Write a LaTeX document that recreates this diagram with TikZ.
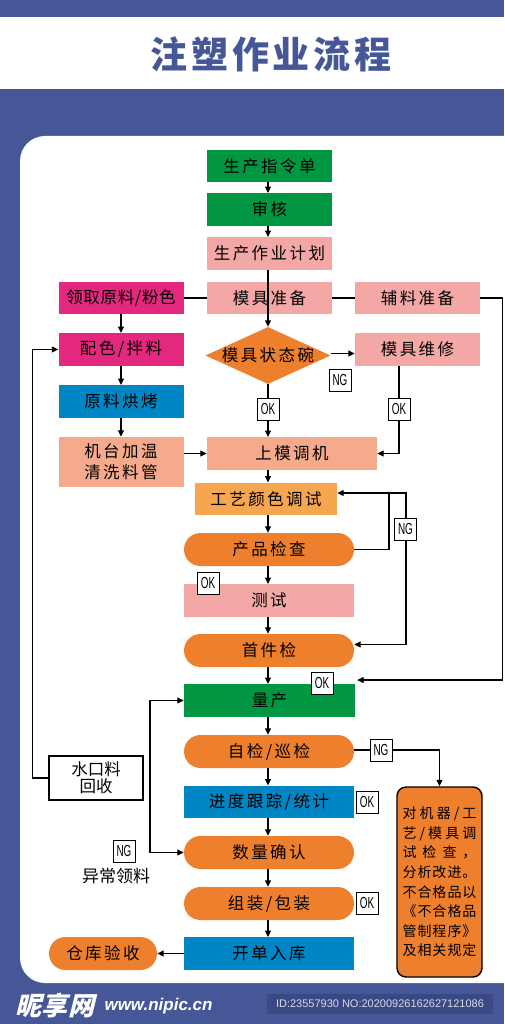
\documentclass[tikz,border=0pt]{standalone}
\usepackage{fontspec}
\usetikzlibrary{shapes.geometric,arrows.meta,calc}
\newfontfamily\cjk[LetterSpace=15]{Noto Sans CJK SC}
\newfontfamily\cjkn[LetterSpace=4]{Noto Sans CJK SC}
\newfontfamily\cjks{Noto Sans CJK SC}
\newfontfamily\cjkt[LetterSpace=10]{Noto Sans CJK SC}
\newfontfamily\cjkw[FakeSlant=0.25]{Noto Sans CJK SC}
\newfontfamily\narrow[FakeStretch=0.62]{Liberation Sans}
\newfontfamily\lsans{Liberation Sans}
\definecolor{bgblue}{RGB}{70,87,152}
\definecolor{cgreen}{RGB}{0,150,66}
\definecolor{cpink}{RGB}{244,168,166}
\definecolor{cmag}{RGB}{229,40,127}
\definecolor{cblue}{RGB}{0,134,197}
\definecolor{csalmon}{RGB}{246,170,140}
\definecolor{clor}{RGB}{247,166,80}
\definecolor{corange}{RGB}{238,127,45}
\definecolor{idbox}{RGB}{58,73,132}
\definecolor{idtext}{RGB}{215,218,232}
\begin{document}
\begin{tikzpicture}[x=1pt,y=-1pt,
  box/.style={inner sep=0pt, minimum width=125pt, minimum height=32.5pt, text=black,
    font=\cjk\fontsize{16.5}{21}\selectfont},
  pill/.style={box, fill=corange, minimum width=170pt, minimum height=33pt, rounded corners=16.5pt},
  ln/.style={line width=1.2pt, draw=black},
  arr/.style={ln, -{Triangle[length=6.5pt,width=6pt]}},
  tag/.style={draw=black, fill=white, line width=0.9pt, minimum width=22pt, minimum height=22pt,
    inner sep=0pt, font=\narrow\fontsize{16}{16}\selectfont},
]
\useasboundingbox (0,0) rectangle (504,1024);
\clip (0,0) rectangle (504,1024);
% background
\fill[bgblue] (0,0) rectangle (504,1024);
\fill[white] (0,17) rectangle (504,89);
\fill[white, rounded corners=25pt] (20,136) rectangle (560,983);
\node[font=\cjkt\bfseries\fontsize{37}{40}\selectfont, text=bgblue] (title) at (271,54) {注塑作业流程};

% column reference
\coordinate (col) at (268,0);

% nodes
\node[box, fill=cgreen] (a1) at (269.5,166) {生产指令单};
\node[box, fill=cgreen] (a2) at (269.5,209.5) {审核};
\node[box, fill=cpink] (a3) at (269.5,253.5) {生产作业计划};
\node[box, fill=cpink] (mj) at (269.5,298) {模具准备};
\node[box, fill=cmag, font=\cjkn\fontsize{16.5}{21}\selectfont] (lq) at (121,298) {领取原料/粉色};
\node[box, fill=cpink] (fl) at (417.5,298) {辅料准备};
\node[box, fill=cmag] (pz) at (121,349.5) {配色/拌料};
\node[diamond, fill=corange, inner sep=0pt, minimum width=125pt, minimum height=57pt] (dia) at (268,355.5) {};
\node[box, minimum width=0pt, minimum height=0pt] (diat) at (268,355) {模具状态碗};
\node[box, fill=cpink] (wx) at (417.5,349.5) {模具维修};
\node[box, fill=cblue] (hk) at (121,401.5) {原料烘烤};
\node[box, fill=csalmon, minimum height=50pt, align=center] (jt) at (121,462) {机台加温\\清洗料管};
\node[box, fill=csalmon, minimum width=170pt] (sm) at (292,453.5) {上模调机};
\node[box, fill=clor, minimum width=142pt] (gy) at (266,499) {工艺颜色调试};
\node[pill] (pc) at (269,549.5) {产品检查};
\node[box, fill=cpink, minimum width=170pt] (cs) at (269,600.5) {测试};
\node[pill] (sj) at (269,650.5) {首件检};
\node[box, fill=cgreen, minimum width=171pt] (lc) at (269.5,700.5) {量产};
\node[pill] (zj) at (269,751.5) {自检/巡检};
\node[box, fill=cblue, minimum width=170pt] (jd) at (269,802) {进度跟踪/统计};
\node[pill] (sl) at (269,852.5) {数量确认};
\node[pill] (zz) at (269,903.5) {组装/包装};
\node[box, fill=cblue, minimum width=170pt] (kd) at (269,953.5) {开单入库};
\node[pill, minimum width=108pt] (ck) at (103,953.5) {仓库验收};
\node[draw=black, line width=1.2pt, fill=white, minimum width=94pt, minimum height=44pt, inner sep=0pt,
  align=center, font=\cjks\fontsize{16.5}{17}\selectfont] (sk) at (96,778) {水口料\\回收};
\node[draw=black, line width=1.4pt, fill=corange, rounded corners=9pt, minimum width=85pt,
  minimum height=190pt, inner sep=0pt, align=left, font=\cjks\fontsize{14}{19.6}\selectfont] (dj) at (439.5,882)
  {\makebox[74pt][s]{对\hfill 机\hfill 器\hfill /\hfill 工}\\
   \makebox[74pt][s]{艺\hfill /\hfill 模\hfill 具\hfill 调}\\
   \makebox[74pt][s]{试\hfill 检\hfill 查\hfill ，}\\
   \makebox[74pt][s]{分\hfill 析\hfill 改\hfill 进\hfill 。}\\
   \makebox[74pt][s]{不\hfill 合\hfill 格\hfill 品\hfill 以}\\
   \makebox[74pt][s]{《\hfill 不\hfill 合\hfill 格\hfill 品}\\
   \makebox[74pt][s]{管\hfill 制\hfill 程\hfill 序\hfill 》}\\
   \makebox[74pt][s]{及\hfill 相\hfill 关\hfill 规\hfill 定}};
\node[font=\cjks\fontsize{17}{17}\selectfont] (yc) at (116,876) {异常领料};

% connectors
\draw[arr] (col |- a1.south) -- (col |- a2.north);
\draw[arr] (col |- a2.south) -- (col |- a3.north);
\draw[arr] (col |- a3.south) -- (col |- dia.north);
\draw[ln] (lq.east) -- (mj.west);
\draw[ln] (mj.east) -- (fl.west);
\coordinate (lcin) at ([xshift=2pt,yshift=4pt]lc.north east);
\draw[arr] (fl.east) -- ++(22,0) |- (lcin);
\draw[arr] (lq.south) -- (pz.north);
\draw[arr] (pz.south) -- (hk.north);
\draw[arr] (hk.south) -- (jt.north);
\draw[arr] ([yshift=2pt]dia.east) -- ([yshift=2pt]dia.east -| wx.west);
\draw[arr] (dia.south) -- (dia.south |- sm.north);
\coordinate (wxo) at ([xshift=-18.5pt]wx.south);
\draw[arr] (wxo) |- (sm.east);
\draw[arr] (jt.east |- sm.west) -- (sm.west);
\draw[arr] (col |- sm.south) -- (col |- gy.north);
\draw[arr] (col |- gy.south) -- (col |- pc.north);
\coordinate (ng1) at (389,493);
\coordinate (ng2) at (406,493);
\draw[arr] (pc.east) -| (ng1) -- (ng1 -| gy.east);
\draw[arr] (ng1) -- (ng2) |- ([yshift=6pt]sj.east);
\draw[arr] (col |- pc.south) -- (col |- cs.north);
\draw[arr] (col |- cs.south) -- (col |- sj.north);
\draw[arr] (col |- sj.south) -- (col |- lc.north);
\draw[arr] (col |- lc.south) -- (col |- zj.north);
\draw[arr] (col |- zj.south) -- (col |- jd.north);
\draw[arr] (col |- jd.south) -- (col |- sl.north);
\draw[arr] (col |- sl.south) -- (col |- zz.north);
\draw[arr] (col |- zz.south) -- (col |- kd.north);
\draw[arr] ([yshift=1.5pt]zj.east) -| (dj.north);
\draw[arr] (kd.west) -- (ck.east);
\draw[arr] (sk.west) -- ++(-16,0) |- (pz.west);
\coordinate (ycj) at (150,776);
\draw[arr] (ycj) |- (lc.west);
\draw[arr] (ycj) |- (sl.west);

% tags
\node[tag] (t1) at (340,380) {NG};
\node[tag] (t2) at (268,409) {OK};
\node[tag] (t3) at (399,409) {OK};
\node[tag] (t4) at (405.5,529) {NG};
\node[tag] (t5) at (208,583) {OK};
\node[tag] (t6) at (322,683) {OK};
\node[tag] (t7) at (381,750) {NG};
\node[tag] (t8) at (367,802) {OK};
\node[tag] (t9) at (367,903) {OK};
\node[tag] (t10) at (124,851) {NG};

% watermark
\node[font=\cjkw\bfseries\fontsize{26}{26}\selectfont, text=white] (wm) at (55,1006) {昵享网};
\node[font=\lsans\bfseries\itshape\fontsize{17}{17}\selectfont, text=white, anchor=west] (url) at (101,1006) {www.nipic.cn};
\node[fill=idbox, minimum width=226pt, minimum height=20pt, inner sep=0pt, text=idtext,
  font=\lsans\fontsize{11}{11}\selectfont] (id) at (380,1004) {ID:23557930 NO:20200926162627121086};
\end{tikzpicture}
\end{document}
